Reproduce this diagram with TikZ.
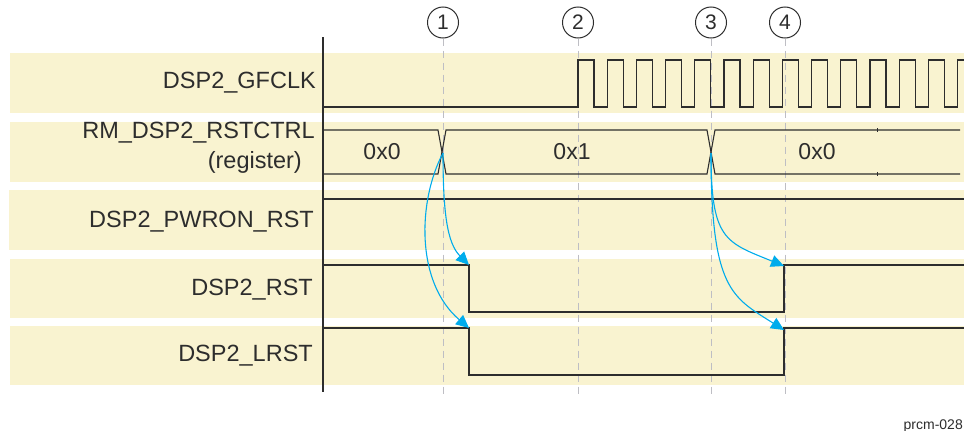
\documentclass[tikz,border=0pt]{standalone}
\usepackage{fontspec}
\setmainfont{Liberation Sans}
\usetikzlibrary{arrows.meta}
\definecolor{bandc}{RGB}{249,243,208}
\definecolor{sigc}{RGB}{45,45,45}
\definecolor{arrc}{RGB}{0,172,236}
\definecolor{guidec}{RGB}{190,190,196}
\begin{document}
\begin{tikzpicture}[x=1pt,y=-1pt,
  bandbox/.style={fill=bandc,draw=none},
  sigline/.style={draw=sigc,line width=1.1pt},
  lbl/.style={font=\fontsize{23.5}{26}\selectfont,anchor=east,inner sep=0pt,text=sigc},
  val/.style={font=\fontsize{23}{26}\selectfont,inner sep=0pt,text=sigc},
  marker/.style={circle,draw=sigc,line width=1pt,minimum size=31pt,inner sep=0pt,font=\fontsize{21}{22}\selectfont,text=sigc},
  guide/.style={draw=guidec,line width=1pt,dash pattern=on 7pt off 5pt},
  cause/.style={draw=arrc,line width=1.1pt,-{Triangle[length=13pt,width=12pt]}}]
\useasboundingbox (0,0) rectangle (964,431);
\clip (0,0) rectangle (964,431);
% bands
\fill[bandbox] (10,53) rectangle (964,113);
\fill[bandbox] (10,122) rectangle (964,182);
\fill[bandbox] (9,190) rectangle (964,250);
\fill[bandbox] (10,259) rectangle (964,318);
\fill[bandbox] (10,326) rectangle (964,385);
% markers and guides
\node[marker] (m1) at (443,22.5) {1};
\node[marker] (m2) at (578,22.5) {2};
\node[marker] (m3) at (711,22.5) {3};
\node[marker] (m4) at (785,22.5) {4};
\coordinate (g1) at (443,395);
\coordinate (g2) at (578,395);
\coordinate (g3) at (711,395);
\coordinate (g4) at (785,395);
\draw[guide] (m1.south) -- (g1);
\draw[guide] (m2.south) -- (g2);
\draw[guide] (m3.south) -- (g3);
\draw[guide] (m4.south) -- (g4);
% labels
\node[lbl] (lclk) at (316,83) {DSP2\_GFCLK};
\node[lbl] (lreg) at (315,133) {RM\_DSP2\_RSTCTRL};
\node[lbl] (lregb) at (302,162) {(register)};
\node[lbl] (lpwr) at (314,222) {DSP2\_PWRON\_RST};
\node[lbl] (lrst) at (313,290) {DSP2\_RST};
\node[lbl] (llrst) at (313,356) {DSP2\_LRST};
% axis
\coordinate (axt) at (323,37);
\coordinate (axb) at (323,392);
\draw[draw=sigc,line width=1.4pt] (axt) -- (axb);
% clock
\draw[sigline] (323,107) -- (578,107)
  \foreach \i in {0,...,13}{ -- ({578+29.2*\i},60) -- ({594+29.2*\i},60) -- ({594+29.2*\i},107) -- ({607.2+29.2*\i},107)};
% register
\draw[sigline] (323,130) -- (438,130) -- (446,174) -- (707,174) -- (715,130) -- (960,130);
\draw[sigline] (323,174) -- (438,174) -- (446,130) -- (707,130) -- (715,174) -- (960,174);
\draw[draw=sigc,line width=0.6pt] (877,128) -- (877,132) (877,172) -- (877,176);
\node[val] (v1) at (382,152) {0x0};
\node[val] (v2) at (572,152) {0x1};
\node[val] (v3) at (817,152) {0x0};
% pwron
\draw[sigline] (323,199) -- (964,199);
% rst
\draw[sigline] (323,265) -- (469,265) -- (469,312) -- (784,312) -- (784,265) -- (964,265);
% lrst
\draw[sigline] (323,328) -- (469,328) -- (469,375) -- (784,375) -- (784,328) -- (964,328);
% cause arrows
\coordinate (x1) at (443,153);
\coordinate (x3) at (711,153);
\coordinate (r1) at (469,265);
\coordinate (l1) at (469,328);
\coordinate (r4) at (784,266);
\coordinate (l4) at (784,330);
\draw[cause] (x1) .. controls (443,212) and (447,243) .. (r1);
\draw[cause] (x1) .. controls (418,200) and (415,282) .. (l1);
\draw[cause] (x3) .. controls (711,240) and (725,242) .. (r4);
\draw[cause] (x3) .. controls (711,290) and (732,297) .. (l4);
% figure id
\node[anchor=base east,inner sep=0pt,font=\fontsize{14}{16}\selectfont,text=sigc] (fid) at (963,429) {prcm-028};
\end{tikzpicture}
\end{document}
